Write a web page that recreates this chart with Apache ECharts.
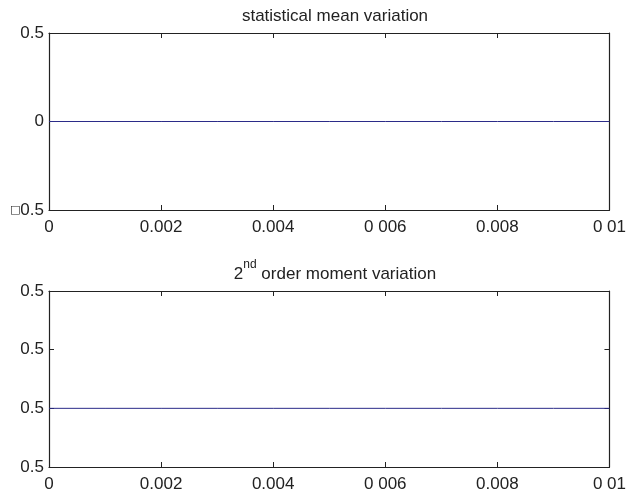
<!DOCTYPE html>
<html>
<head>
<meta charset="utf-8">
<script src="https://cdn.jsdelivr.net/npm/echarts@6/dist/echarts.min.js"></script>
<style>
  html, body { margin: 0; padding: 0; background: #fff; }
  #chart { width: 629px; height: 494px; }
</style>
</head>
<body>
<div id="chart"></div>
<script>
// Sample times (s)
const timeSamples = [0, 0.001, 0.002, 0.003, 0.004, 0.005, 0.006, 0.007, 0.008, 0.009, 0.01];
// Statistical mean over time
const meanValues = [0, 0, 0, 0, 0, 0, 0, 0, 0, 0, 0];
// Second order moment over time
const momentValues = [0.5, 0.5, 0.5, 0.5, 0.5, 0.5, 0.5, 0.5, 0.5, 0.5, 0.5];
// Tick labels on the time axis
const timeTickLabels = ['0', '0.002', '0.004', '0 006', '0.008', '0 01'];
// Panel titles
const meanTitle = 'statistical mean variation';
const momentTitle = ['2', 'nd', ' order moment variation'];

const FONT = 'Liberation Sans, Arial, Helvetica, sans-serif';
const AXIS = '#222';
const LINE = '#2b2b88';

function toPairs(xs, ys) { return xs.map((x, i) => [x, ys[i]]); }

function timeLabel(v) {
  const i = Math.round(v / 0.002);
  return timeTickLabels[i] !== undefined ? timeTickLabels[i] : '';
}

function xAxisFor(gridIndex, showLabels, position) {
  return {
    type: 'value', gridIndex, position,
    min: 0, max: 0.01, interval: 0.002,
    axisLine: { show: true, onZero: false, lineStyle: { color: AXIS, width: 1.2 } },
    axisTick: { show: true, inside: true, length: 5, lineStyle: { color: AXIS } },
    axisLabel: { show: showLabels, formatter: timeLabel, color: '#222', fontSize: 17, fontFamily: FONT, margin: 9 },
    splitLine: { show: false }
  };
}

function yAxisFor(gridIndex, showLabels, position, min, max, interval, fmt) {
  return {
    type: 'value', gridIndex, position,
    min, max, interval,
    axisLine: { show: true, onZero: false, lineStyle: { color: AXIS, width: 1.2 } },
    axisTick: { show: true, inside: true, length: 5, lineStyle: { color: AXIS } },
    axisLabel: { show: showLabels, formatter: fmt, color: '#222', fontSize: 17, fontFamily: FONT, margin: 5,
      rich: { box: { fontSize: 11, color: '#222', fontFamily: 'DejaVu Sans', fontWeight: 'bold' } } },
    splitLine: { show: false }
  };
}

const meanFmt = v => (v < 0 ? '{box|\u25A1}' + Math.abs(v) : String(v));
const momentFmt = v => v.toFixed(1);

const chart = echarts.init(document.getElementById('chart'), null, { renderer: 'canvas' });
chart.setOption({
  backgroundColor: '#fff',
  animation: false,
  title: [
    {
      text: meanTitle, left: 330, top: 3, textAlign: 'center',
      textStyle: { fontSize: 17, fontWeight: 'normal', color: '#222', fontFamily: FONT }
    },
    {
      text: '{b|' + momentTitle[0] + '}{s|' + momentTitle[1] + '}{b|' + momentTitle[2] + '}',
      left: 330, top: 254, textAlign: 'center',
      textStyle: {
        fontSize: 17, fontWeight: 'normal', color: '#222', fontFamily: FONT,
        rich: {
          b: { fontSize: 17, color: '#222', fontFamily: FONT, verticalAlign: 'bottom', lineHeight: 24 },
          s: { fontSize: 12, color: '#222', fontFamily: FONT, verticalAlign: 'top', lineHeight: 24 }
        }
      }
    }
  ],
  grid: [
    { left: 49, right: 18, top: 33, height: 177 },
    { left: 49, right: 18, top: 291, height: 176 }
  ],
  xAxis: [
    xAxisFor(0, true, 'bottom'),
    xAxisFor(0, false, 'top'),
    xAxisFor(1, true, 'bottom'),
    xAxisFor(1, false, 'top')
  ],
  yAxis: [
    yAxisFor(0, true, 'left', -0.5, 0.5, 0.5, meanFmt),
    yAxisFor(0, false, 'right', -0.5, 0.5, 0.5, meanFmt),
    yAxisFor(1, true, 'left', 0.4999, 0.5002, 0.0001, momentFmt),
    yAxisFor(1, false, 'right', 0.4999, 0.5002, 0.0001, momentFmt)
  ],
  series: [
    {
      type: 'line', xAxisIndex: 0, yAxisIndex: 0,
      data: toPairs(timeSamples, meanValues),
      showSymbol: false, lineStyle: { color: LINE, width: 1 }
    },
    {
      type: 'line', xAxisIndex: 2, yAxisIndex: 2,
      data: toPairs(timeSamples, momentValues),
      showSymbol: false, lineStyle: { color: LINE, width: 1 }
    }
  ]
});
</script>
</body>
</html>
